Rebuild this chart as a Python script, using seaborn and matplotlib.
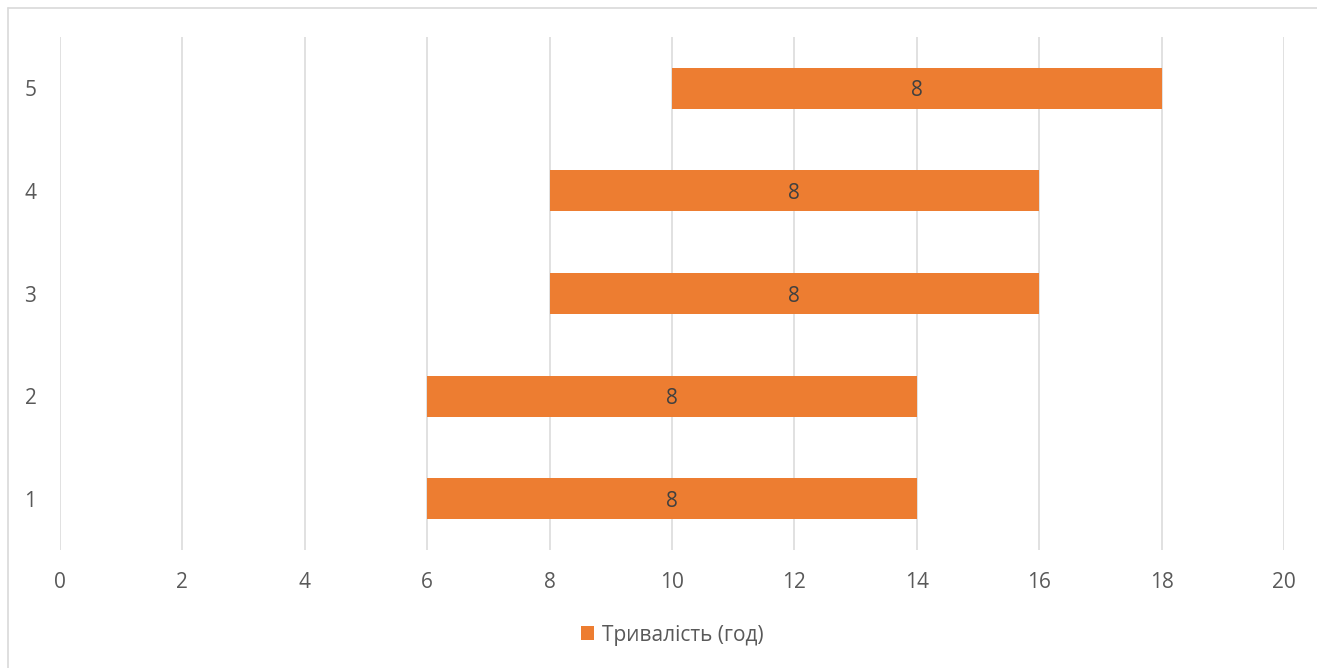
import matplotlib
matplotlib.use("Agg")
import matplotlib.pyplot as plt
from matplotlib.patches import Patch
from matplotlib.lines import Line2D
import seaborn as sns
import pandas as pd

tasks = ["1", "2", "3", "4", "5"]
start = [6, 6, 8, 8, 10]
duration = [8, 8, 8, 8, 8]
x_ticks = [0, 2, 4, 6, 8, 10, 12, 14, 16, 18, 20]
legend_label = "Тривалість (год)"

BAR = "#ED7D31"
GRID = "#D9D9D9"
TXT = "#595959"

sns.set_theme(style="white")
plt.rcParams["font.family"] = ["Open Sans", "DejaVu Sans"]

W, H = 1317, 668
fig = plt.figure(figsize=(W / 100, H / 100), dpi=100)
ax = fig.add_axes([60 / W, 1 - 550 / H, (1284 - 60) / W, (550 - 37) / H])

df = pd.DataFrame({"task": tasks, "start": start, "dur": duration})
order = tasks[::-1]
sns.barplot(data=df, x="dur", y="task", order=order, orient="h",
            color=BAR, saturation=1, width=0.4, ax=ax, zorder=3)

smap = dict(zip(df["task"], df["start"]))
dmap = dict(zip(df["task"], df["dur"]))
for p, t in zip(ax.patches, order):
    p.set_x(smap[t])
    p.set_edgecolor("none")
    ax.text(smap[t] + dmap[t] / 2, p.get_y() + p.get_height() / 2, str(dmap[t]),
            ha="center", va="center_baseline", fontsize=15, color="#404040", zorder=4)

ax.set_xlim(0, 20)
ax.set_xticks(x_ticks)
ax.set_xticklabels([str(v) for v in x_ticks])
ax.grid(axis="x", color=GRID, linewidth=1.1, zorder=0)
ax.grid(axis="y", visible=False)
ax.set_axisbelow(True)
for s in ax.spines.values():
    s.set_visible(False)
ax.tick_params(axis="both", length=0, labelsize=15, labelcolor=TXT)
ax.tick_params(axis="x", pad=16)
ax.tick_params(axis="y", pad=17)
ax.set_xlabel("")
ax.set_ylabel("")

# outer chart border
fig.add_artist(Line2D([8 / W, 1.0], [1 - 8 / H, 1 - 8 / H], color=GRID, lw=1.2,
                      transform=fig.transFigure))
fig.add_artist(Line2D([8 / W, 8 / W], [0, 1 - 8 / H], color=GRID, lw=1.2,
                      transform=fig.transFigure))

handle = Patch(facecolor=BAR, edgecolor="none")
fig.legend([handle], [legend_label], loc="center",
           bbox_to_anchor=(672 / W, 1 - 635 / H), frameon=False, fontsize=15,
           labelcolor=TXT, handlelength=0.65, handleheight=0.65, handletextpad=0.35)

fig.savefig("out.png", dpi=100)
